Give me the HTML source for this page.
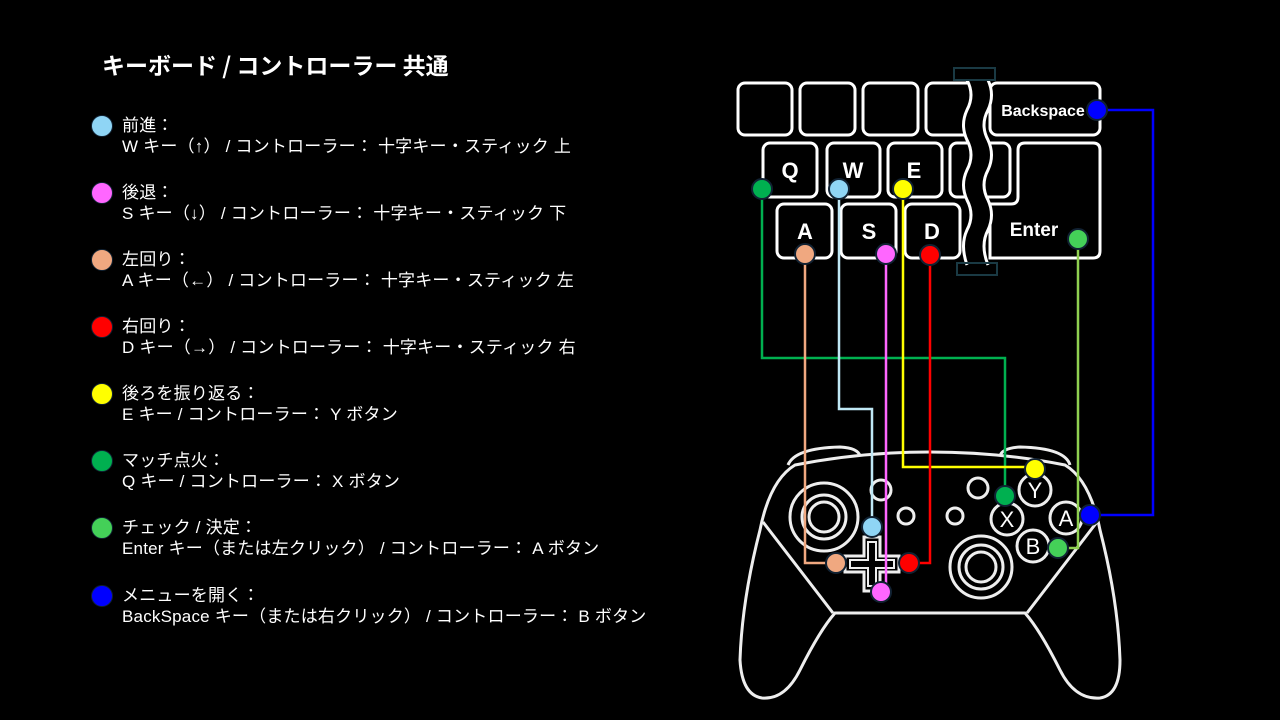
<!DOCTYPE html>
<html><head><meta charset="utf-8"><style>
body{margin:0;background:#000;width:1280px;height:720px;overflow:hidden;position:relative;font-family:"Liberation Sans","Noto Sans CJK JP",sans-serif;color:#fff}
.t{position:absolute;left:102px;top:47px;font-size:23px;font-weight:bold;font-family:"Noto Sans CJK JP",sans-serif}
.it{position:absolute;left:122px;font-size:17px;line-height:21px;white-space:nowrap;letter-spacing:0.2px}
.d{position:absolute;left:91px;width:20px;height:20px;border-radius:50%;border:1px solid #123}
</style></head><body>
<div class="t">キーボード / コントローラー 共通</div>
<div class="d" style="top:115px;background:#8fd5f5"></div><div class="it" style="top:115px">前進：<br>W キー（↑） / コントローラー：&nbsp;十字キー・スティック 上</div>
<div class="d" style="top:182px;background:#ff66ff"></div><div class="it" style="top:182px">後退：<br>S キー（↓） / コントローラー：&nbsp;十字キー・スティック 下</div>
<div class="d" style="top:249px;background:#f0a880"></div><div class="it" style="top:249px">左回り：<br>A キー（←） / コントローラー：&nbsp;十字キー・スティック 左</div>
<div class="d" style="top:316px;background:#ff0000"></div><div class="it" style="top:316px">右回り：<br>D キー（→） / コントローラー：&nbsp;十字キー・スティック 右</div>
<div class="d" style="top:383px;background:#ffff00"></div><div class="it" style="top:383px">後ろを振り返る：<br>E キー / コントローラー：&nbsp;Y ボタン</div>
<div class="d" style="top:450px;background:#00b050"></div><div class="it" style="top:450px">マッチ点火：<br>Q キー / コントローラー：&nbsp;X ボタン</div>
<div class="d" style="top:517px;background:#44d058"></div><div class="it" style="top:517px">チェック / 決定：<br>Enter キー（または左クリック） / コントローラー：&nbsp;A ボタン</div>
<div class="d" style="top:585px;background:#0000ff"></div><div class="it" style="top:585px">メニューを開く：<br>BackSpace キー（または右クリック） / コントローラー：&nbsp;B ボタン</div>

<svg width="1280" height="720" style="position:absolute;left:0;top:0" font-family="Liberation Sans, sans-serif">
<g fill="none" stroke="#fff" stroke-width="3">
<rect x="738" y="83" width="54" height="52" rx="7"/><rect x="800" y="83" width="55" height="52" rx="7"/><rect x="863" y="83" width="55" height="52" rx="7"/><rect x="926" y="83" width="55" height="52" rx="7"/><rect x="990" y="83" width="110" height="52" rx="7"/>
<rect x="763" y="143" width="54" height="54" rx="7"/><rect x="827" y="143" width="53" height="54" rx="7"/><rect x="888" y="143" width="54" height="54" rx="7"/><rect x="950" y="143" width="60" height="54" rx="7"/>
<path d="M1025 143 H1093 Q1100 143 1100 150 V251 Q1100 258 1093 258 H990 V204 H1011 Q1018 204 1018 197 V150 Q1018 143 1025 143Z"/>
<rect x="777" y="204" width="55" height="54" rx="7"/><rect x="841" y="204" width="55" height="54" rx="7"/><rect x="905" y="204" width="55" height="54" rx="7"/>
</g>
<path d="M967 80 Q975 95 967 110 Q960 125 967 140 Q975 155 967 170 Q960 185 967 200 Q975 215 967 230 Q960 245 967 265 L988 265 Q980 245 988 230 Q995 215 988 200 Q980 185 988 170 Q995 155 988 140 Q980 125 988 110 Q995 95 988 80Z" fill="#000"/>
<path d="M967 80 Q975 95 967 110 Q960 125 967 140 Q975 155 967 170 Q960 185 967 200 Q975 215 967 230 Q960 245 967 265 M988 265 Q980 245 988 230 Q995 215 988 200 Q980 185 988 170 Q995 155 988 140 Q980 125 988 110 Q995 95 988 80" fill="none" stroke="#fff" stroke-width="3"/>
<rect x="954" y="68" width="41" height="12" fill="none" stroke="#1a3a44" stroke-width="2"/><rect x="957" y="263" width="40" height="12" fill="none" stroke="#1a3a44" stroke-width="2"/>
<g fill="#fff" font-weight="bold" font-size="22" text-anchor="middle"><text x="790" y="178">Q</text><text x="853" y="178">W</text><text x="914" y="178">E</text><text x="805" y="239">A</text><text x="869" y="239">S</text><text x="932" y="239">D</text>
<text x="1043" y="116" font-size="16">Backspace</text><text x="1034" y="236" font-size="19">Enter</text></g>

<g fill="none" stroke="#eee" stroke-width="3">
<path d="M835 613 L1025 613 Q1040 630 1060 670 Q1075 700 1100 698 Q1120 695 1120 660 Q1118 600 1100 530 Q1090 480 1065 465 Q1000 452 930 452 Q860 452 795 465 Q770 480 760 530 Q742 600 740 660 Q742 695 762 698 Q785 700 800 670 Q820 630 835 613Z"/>
<path d="M763 522 L833 613 M1097 522 L1027 613"/>
<path d="M788 465 Q795 448 840 447 Q858 448 860 456 M1070 465 Q1065 448 1020 447 Q1002 448 1000 456"/>
<circle cx="824" cy="517" r="34"/><circle cx="824" cy="517" r="22"/><circle cx="824" cy="517" r="15"/>
<circle cx="981" cy="567" r="31"/><circle cx="981" cy="567" r="22"/><circle cx="981" cy="567" r="15"/>
<circle cx="881" cy="490" r="10"/><circle cx="906" cy="516" r="8"/><circle cx="955" cy="516" r="8"/><circle cx="978" cy="488" r="10"/>
<circle cx="1035" cy="490" r="16"/><circle cx="1007" cy="519" r="16"/><circle cx="1066" cy="518" r="16"/><circle cx="1033" cy="546" r="16"/>
<path d="M864 537 H880 V556 H899 V572 H880 V591 H864 V572 H845 V556 H864Z"/>
<path d="M868 542 H876 V560 H894 V568 H876 V586 H868 V568 H850 V560 H868Z" stroke-width="2"/>
</g>
<g fill="#fff" font-size="22" text-anchor="middle"><text x="1035" y="498">Y</text><text x="1007" y="527">X</text><text x="1066" y="526">A</text><text x="1033" y="554">B</text></g>

<g fill="none" stroke-width="2.5">
<path d="M762 189 V358 H1005 V496" stroke="#00b050"/>
<path d="M839 189 V409 H872 V527" stroke="#bfe8f5"/>
<path d="M903 189 V467 H1035" stroke="#ffff00"/>
<path d="M805 254 V563 H836" stroke="#f0a880"/>
<path d="M886 254 V592" stroke="#ff66ff"/>
<path d="M930 255 V563 H909" stroke="#ff0000"/>
<path d="M1078 239 V548 H1058" stroke="#8fd050"/>
<path d="M1097 110 H1153 V515 H1090" stroke="#0000ff"/>
</g>
<g stroke="#123" stroke-width="2">
<circle cx="762" cy="189" r="10" fill="#00b050"/><circle cx="839" cy="189" r="10" fill="#8fd5f5"/><circle cx="903" cy="189" r="10" fill="#ffff00"/>
<circle cx="805" cy="254" r="10" fill="#f0a880"/><circle cx="886" cy="254" r="10" fill="#ff66ff"/><circle cx="930" cy="255" r="10" fill="#ff0000"/>
<circle cx="1078" cy="239" r="10" fill="#44d058"/><circle cx="1097" cy="110" r="10" fill="#0000ff"/>
<circle cx="1035" cy="469" r="10" fill="#ffff00"/><circle cx="1005" cy="496" r="10" fill="#00b050"/><circle cx="872" cy="527" r="10" fill="#8fd5f5"/>
<circle cx="1090" cy="515" r="10" fill="#0000ff"/><circle cx="1058" cy="548" r="10" fill="#44d058"/><circle cx="836" cy="563" r="10" fill="#f0a880"/>
<circle cx="909" cy="563" r="10" fill="#ff0000"/><circle cx="881" cy="592" r="10" fill="#ff66ff"/>
</g>
</svg>
</body></html>
